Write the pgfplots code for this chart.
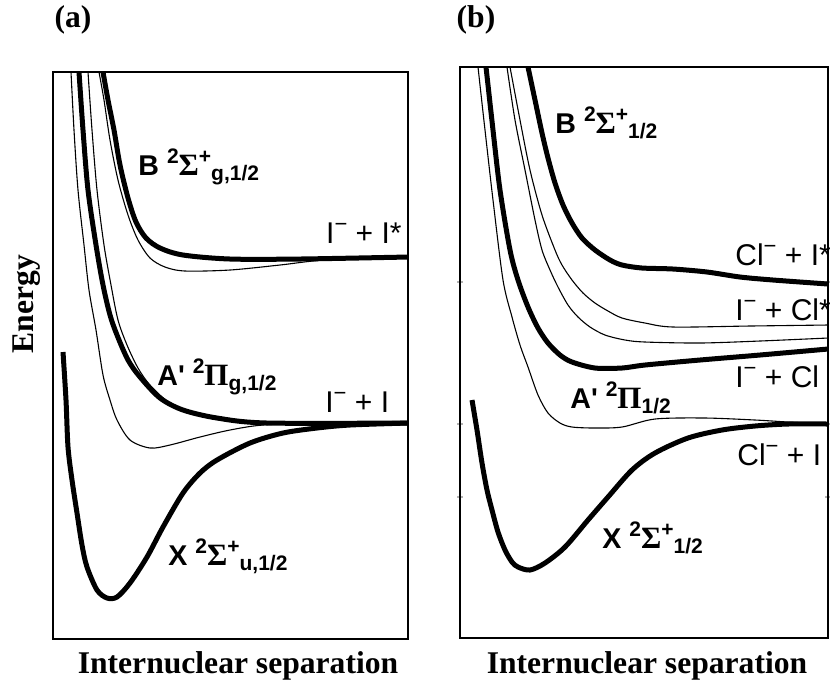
\documentclass[border=0pt]{standalone}
\usepackage{pgfplots}
\pgfplotsset{compat=1.18}
\usepackage{fontspec}
\setmainfont{Liberation Serif}
\newfontfamily\arial{Liberation Sans}
\newfontfamily\tnr{Liberation Serif}
\newcommand\lab{\arial\fontsize{15}{17}\selectfont}
\newcommand\blab{\arial\bfseries\fontsize{14.3}{16}\selectfont}
\newcommand\sm{\fontsize{10.5}{11}\selectfont}
\newcommand\up[1]{\raisebox{5.6pt}{\sm #1}}
\newcommand\dn[1]{\raisebox{-2.8pt}{\sm #1}}
\newcommand\Gk[1]{{\tnr\bfseries\fontsize{15.5}{16}\selectfont #1}}
\newcommand\Iminus{I\raisebox{6pt}{\fontsize{11}{11}\selectfont −}}
\newcommand\Clminus{Cl\raisebox{6pt}{\fontsize{11}{11}\selectfont −}}
\pgfplotsset{
  pes/.style={scale only axis, y dir=reverse, xtick=\empty, ytick=\empty,
    axis line style={line width=0.9pt}, clip=true},
  thk/.style={black, line width=2.5pt, smooth, no markers},
  thn/.style={black, line width=0.55pt, smooth, no markers},
}
\begin{document}
\begin{tikzpicture}[x=0.5pt,y=-0.5pt]
\useasboundingbox (0,0) rectangle (830,687);
% ---------------- panel (a)
\begin{axis}[pes, at={(26.5pt,-36pt)}, anchor=north west,
  width=177.5pt, height=283.5pt, xmin=53, xmax=408, ymin=72, ymax=639]
% B thick
\addplot[thk] coordinates {(103,72)(108,100)(114,130)(120,165)(128,198)(136,222)(146,238)(160,248)(183,255)(230,259)(300,259)(408,257)};
% B thin partner
\addplot[thn] coordinates {(99,72)(104,100)(110,140)(118,180)(128,215)(138,240)(150,258)(165,267)(185,271)(230,270)(280,265)(325,260)(408,257)};
% thin lower curve
\addplot[thn] coordinates {(71,72)(74,130)(78,190)(84,245)(89,290)(96,330)(103,375)(110,400)(117,420)(130,440)(150,448)(170,445)(200,437)(230,430)(263,425)(320,423)(408,423)};
% A' thick
\addplot[thk] coordinates {(79,72)(83,130)(88,190)(96,245)(103,285)(110,315)(117,335)(128,360)(140,377)(160,398)(183,410)(217,418)(267,423)(408,423)};
% thin near A'
\addplot[thn] coordinates {(88,72)(92,130)(97,190)(104,245)(111,285)(118,320)(127,345)(138,368)(150,385)(170,403)(200,416)(240,422)(300,423)(408,423)};
% X thick
\addplot[thk] coordinates {(63,352)(66,400)(68,447)(72,480)(77,513)(82,545)(87,567)(97,590)(107,598)(117,597)(130,583)(147,557)(163,527)(183,493)(200,473)(217,460)(250,443)(283,433)(317,428)(350,425)(408,423)};
\end{axis}
% ---------------- panel (b)
\begin{axis}[pes, at={(230pt,-33.5pt)}, anchor=north west,
  width=184pt, height=285.5pt, xmin=460, xmax=828, ymin=67, ymax=638,
  ytick={282,424,497}, yticklabels={}, ytick pos=both, tick align=center,
  major tick length=3pt, tick style={gray!60, line width=0.6pt}]
% thin lowest
\addplot[thn] coordinates {(478,67)(485,130)(493,200)(503,280)(512,317)(520,345)(528,367)(538,395)(548,413)(560,423)(572,427)(595,428)(622,427)(655,419)(705,418)(755,420)(788,422)(828,424)};
% A' thick
\addplot[thk] coordinates {(486,67)(493,130)(500,190)(510,250)(518,280)(528,307)(538,328)(548,343)(560,355)(572,362)(595,368)(622,368)(645,365)(700,360)(760,355)(828,349)};
% thin (I- + Cl*) lower
\addplot[thn] coordinates {(507,67)(515,120)(525,170)(535,220)(542,250)(550,270)(558,287)(568,305)(578,317)(590,327)(605,335)(625,340)(645,342)(700,343)(760,341)(828,338)};
% thin (I- + Cl*) upper
\addplot[thn] coordinates {(510,67)(520,120)(530,170)(542,215)(555,250)(562,265)(572,280)(583,293)(595,303)(608,311)(622,318)(645,323)(673,327)(750,326)(828,325)};
% B thick
\addplot[thk] coordinates {(528,67)(535,100)(542,133)(548,158)(555,183)(563,205)(572,223)(582,238)(595,250)(610,260)(622,265)(642,268)(673,269)(707,272)(740,277)(773,280)(828,284)};
% X thick
\addplot[thk] coordinates {(472,400)(477,430)(482,463)(487,490)(492,510)(498,532)(505,550)(512,562)(518,567)(530,570)(545,563)(565,547)(588,520)(608,497)(632,470)(655,453)(688,438)(722,430)(755,426)(788,424)(828,424)};
\end{axis}
% ---------------- labels (a)
\node[anchor=base west, inner sep=0pt, font=\blab] at (138,175) {B \up{2}\Gk{Σ}\up{+}\dn{g,1/2}};
\node[anchor=base east, inner sep=0pt, font=\lab] at (402,243) {\Iminus{} + I*};
\node[anchor=base west, inner sep=0pt, font=\blab] at (157,385) {A\textquotesingle{} \up{2}\Gk{Π}\dn{g,1/2}};
\node[anchor=base west, inner sep=0pt, font=\lab] at (325,412) {\Iminus{} + I};
\node[anchor=base west, inner sep=0pt, font=\blab] at (168,565) {X \up{2}\Gk{Σ}\up{+}\dn{u,1/2}};
% ---------------- labels (b)
\node[anchor=base west, inner sep=0pt, font=\blab] at (555,133) {B \up{2}\Gk{Σ}\up{+}\dn{1/2}};
\node[anchor=base west, inner sep=0pt, font=\lab] at (735,265) {\Clminus{} + I*};
\node[anchor=base west, inner sep=0pt, font=\lab] at (735,320) {\Iminus{} + Cl*};
\node[anchor=base west, inner sep=0pt, font=\lab] at (735,387) {\Iminus{} + Cl};
\node[anchor=base west, inner sep=0pt, font=\blab] at (570,408) {A\textquotesingle{} \up{2}\Gk{Π}\dn{1/2}};
\node[anchor=base west, inner sep=0pt, font=\lab] at (737,465) {\Clminus{} + I};
\node[anchor=base west, inner sep=0pt, font=\blab] at (602,548) {X \up{2}\Gk{Σ}\up{+}\dn{1/2}};
% ---------------- titles
\node[font=\bfseries\fontsize{15.8}{18}\selectfont] at (73,20) {(a)};
\node[font=\bfseries\fontsize{15.8}{18}\selectfont] at (476,20) {(b)};
\node[rotate=90, font=\bfseries\fontsize{15.8}{18}\selectfont] at (27,304) {Energy};
\node[anchor=base, font=\bfseries\fontsize{15.8}{18}\selectfont] at (238,673) {Internuclear separation};
\node[anchor=base, font=\bfseries\fontsize{15.8}{18}\selectfont] at (647,673) {Internuclear separation};
\end{tikzpicture}
\end{document}
